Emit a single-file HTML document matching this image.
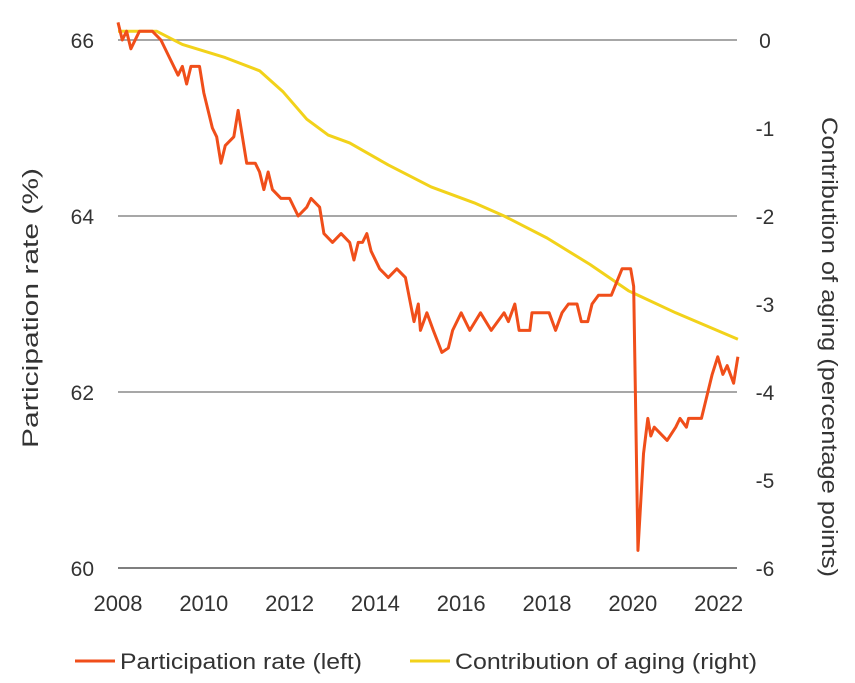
<!DOCTYPE html>
<html><head><meta charset="utf-8"><style>
body{margin:0;background:#fff;}
svg text{font-family:"Liberation Sans",sans-serif;fill:#333;}
</style></head><body>
<svg width="855" height="678">
<g id="grid"></g><g id="series"></g><g id="labels"></g>
<text transform="translate(38,308) rotate(-90)" text-anchor="middle" font-size="22" textLength="280" lengthAdjust="spacingAndGlyphs">Participation rate (%)</text>
<text transform="translate(822,347) rotate(90)" text-anchor="middle" font-size="22" textLength="460" lengthAdjust="spacingAndGlyphs">Contribution of aging (percentage points)</text>
<g>
<line x1="75" y1="661" x2="115" y2="661" stroke="#f04e1a" stroke-width="3"/>
<text x="120" y="669" font-size="22" textLength="242" lengthAdjust="spacingAndGlyphs">Participation rate (left)</text>
<line x1="410" y1="661" x2="450" y2="661" stroke="#f2d21a" stroke-width="3"/>
<text x="455" y="669" font-size="22" textLength="302" lengthAdjust="spacingAndGlyphs">Contribution of aging (right)</text>
</g>
</svg>
<script>
const leftTicks=[66,64,62,60];
const rightTicks=[0,-2,-4,-6];
const rightMinor=[-1,-3,-5];
const xTicks=[2008,2010,2012,2014,2016,2018,2020,2022];
const partDates=[2008.0,2008.1,2008.2,2008.3,2008.5,2008.8,2009.0,2009.2,2009.4,2009.5,2009.6,2009.7,2009.9,2010.0,2010.2,2010.3,2010.4,2010.5,2010.7,2010.8,2010.9,2011.0,2011.2,2011.3,2011.4,2011.5,2011.6,2011.8,2012.0,2012.2,2012.4,2012.5,2012.7,2012.8,2013.0,2013.2,2013.4,2013.5,2013.6,2013.7,2013.8,2013.9,2014.1,2014.3,2014.5,2014.7,2014.9,2015.0,2015.05,2015.2,2015.35,2015.55,2015.7,2015.8,2016.0,2016.2,2016.45,2016.7,2017.0,2017.1,2017.25,2017.35,2017.6,2017.65,2018.05,2018.2,2018.35,2018.5,2018.7,2018.8,2018.95,2019.05,2019.2,2019.5,2019.75,2019.95,2020.02,2020.12,2020.25,2020.35,2020.42,2020.5,2020.8,2021.0,2021.1,2021.25,2021.3,2021.6,2021.7,2021.75,2021.85,2021.98,2022.1,2022.2,2022.35,2022.45];
const partValues=[66.2,66.0,66.1,65.9,66.1,66.1,66.0,65.8,65.6,65.7,65.5,65.7,65.7,65.4,65.0,64.9,64.6,64.8,64.9,65.2,64.9,64.6,64.6,64.5,64.3,64.5,64.3,64.2,64.2,64.0,64.1,64.2,64.1,63.8,63.7,63.8,63.7,63.5,63.7,63.7,63.8,63.6,63.4,63.3,63.4,63.3,62.8,63.0,62.7,62.9,62.7,62.45,62.5,62.7,62.9,62.7,62.9,62.7,62.9,62.8,63.0,62.7,62.7,62.9,62.9,62.7,62.9,63.0,63.0,62.8,62.8,63.0,63.1,63.1,63.4,63.4,63.2,60.2,61.3,61.7,61.5,61.6,61.45,61.6,61.7,61.6,61.7,61.7,61.9,62.0,62.2,62.4,62.2,62.3,62.1,62.4];
const agingDates=[2008.0,2008.9,2009.5,2010.5,2011.3,2011.85,2012.4,2012.9,2013.4,2014.3,2015.3,2016.3,2017.0,2018.0,2019.0,2019.9,2021.0,2022.45];
const agingValues=[0.1,0.1,-0.05,-0.2,-0.35,-0.59,-0.9,-1.08,-1.17,-1.42,-1.67,-1.85,-2.0,-2.25,-2.55,-2.85,-3.1,-3.4];
const NS="http://www.w3.org/2000/svg";
const X0=118,PX_YEAR=42.9,X1=737;
function xs(d){return X0+(d-2008)*PX_YEAR;}
function yl(v){return 40+(66-v)*88;}
function yr(v){return 40+(0-v)*88;}
function mk(t,a,p){const e=document.createElementNS(NS,t);for(const k in a)e.setAttribute(k,a[k]);document.getElementById(p).appendChild(e);return e;}
leftTicks.forEach(v=>{
 const l=mk('line',{x1:X0,x2:X1,y1:yl(v),y2:yl(v),stroke:v===60?'#555':'#8a8a8a','stroke-width':1.5},'grid');
 
 
 const t=mk('text',{x:94,y:yl(v)+8,'text-anchor':'end','font-size':21},'labels');t.textContent=v;
 
 
});
rightTicks.concat(rightMinor).forEach(v=>{
 const t=mk('text',{x:765,y:yr(v)+8,'text-anchor':'middle','font-size':21},'labels');t.textContent=v;
 
 
});
xTicks.forEach(d=>{
 const t=mk('text',{x:xs(d),y:611,'text-anchor':'middle','font-size':22},'labels');t.textContent=d;
 
 
});
const ap=mk('path',{d:agingDates.map((d,i)=>(i?'L':'M')+xs(d)+','+yr(agingValues[i])).join(''),fill:'none',stroke:'#f2d21a','stroke-width':3,'stroke-linejoin':'round'},'series');


const pp=mk('path',{d:partDates.map((d,i)=>(i?'L':'M')+xs(d)+','+yl(partValues[i])).join(''),fill:'none',stroke:'#f04e1a','stroke-width':3,'stroke-linejoin':'round'},'series');


</script>
</body></html>
